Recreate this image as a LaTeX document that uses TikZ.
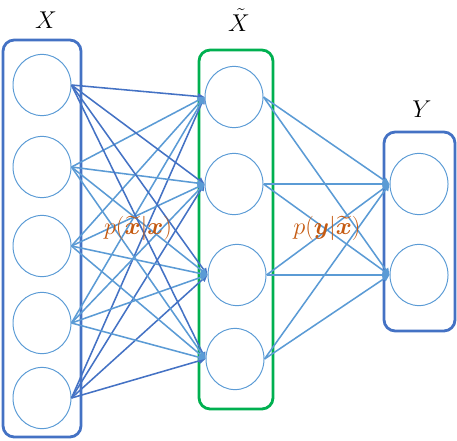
\documentclass[tikz,border=0pt]{standalone}
\usepackage{amsmath}
\usepackage{amssymb}
\usepackage{bm}
\usepackage{xcolor}
\usepackage{tikz}
\usetikzlibrary{shapes.geometric, arrows.meta, positioning}
\definecolor{myblue}{RGB}{68,114,196}
\definecolor{mylight}{RGB}{91,155,213}
\definecolor{mygreen}{RGB}{0,176,80}
\definecolor{myorange}{RGB}{197,90,17}
\tikzset{
  unit/.style={ellipse, draw=mylight, line width=0.7pt,
    minimum width=1.45cm, minimum height=1.53cm, inner sep=0pt},
  layerbox/.style={rounded corners=0.28cm, line width=2pt},
  darkedge/.style={-{Triangle[length=1.7mm, width=1.5mm]}, line width=1.1pt, color=myblue},
  lightedge/.style={-{Triangle[length=1.7mm, width=1.5mm]}, line width=1.1pt, color=mylight},
  layerlabel/.style={font=\fontsize{17}{20}\selectfont},
  problabel/.style={font=\fontsize{18}{21}\selectfont, color=myorange}
}

\begin{document}
\begin{tikzpicture}[x=0.025cm, y=-0.025cm]
  \useasboundingbox (0,0) rectangle (457,440);
  % Layer boxes
  \draw[layerbox, myblue] (3,40) rectangle (81,437);
  \draw[layerbox, mygreen] (199,50) rectangle (273,409);
  \draw[layerbox, myblue] (384,132) rectangle (455,331);
  % Layer labels
  \node[layerlabel] (labX) at (46,20) {$X$};
  \node[layerlabel] (labXt) at (239,20) {$\tilde{X}$};
  \node[layerlabel] (labY) at (422,109) {$Y$};
  % Units of X
  \foreach \i/\yy in {1/85, 2/167, 3/246, 4/323, 5/398}
    \node[unit] (x\i) at (42,\yy) {};
  % Units of X tilde
  \foreach \i/\xx/\yy in {1/234/97, 2/234/184, 3/237/275, 4/235/359}
    \node[unit] (t\i) at (\xx,\yy) {};
  % Units of Y
  \foreach \i/\yy in {1/184, 2/275}
    \node[unit] (y\i) at (419,\yy) {};
  % Corruption edges
  \foreach \j in {1,...,4} {
    \draw[darkedge] (x1.east) -- (t\j.west);
    \draw[darkedge] (x5.east) -- (t\j.west);
    \foreach \i in {2,3,4}
      \draw[lightedge] (x\i.east) -- (t\j.west);
  }
  % Prediction edges
  \foreach \j in {1,...,4}
    \foreach \k in {1,2}
      \draw[lightedge] (t\j.east) -- (y\k.west);
  % Probability labels
  \node[problabel] (pxt) at (138,228) {$p(\widetilde{\bm{x}}|\bm{x})$};
  \node[problabel] (pyx) at (327,228) {$p(\bm{y}|\widetilde{\bm{x}})$};
\end{tikzpicture}
\end{document}
